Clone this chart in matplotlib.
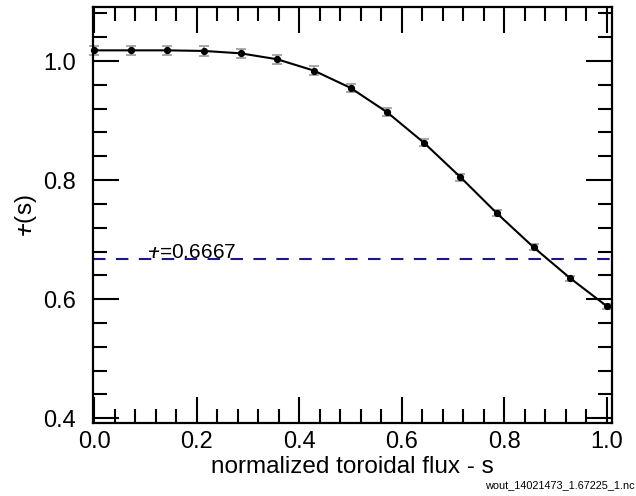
import numpy as np
import matplotlib.pyplot as plt
from matplotlib.ticker import MultipleLocator

plt.rcParams['font.family'] = ['Liberation Sans', 'DejaVu Sans']
plt.rcParams['mathtext.fontset'] = 'custom'
plt.rcParams['mathtext.it'] = 'Liberation Sans:italic'
plt.rcParams['mathtext.rm'] = 'Liberation Sans'

# rotational transform profile
s = np.arange(15) / 14.0
iota = [1.018, 1.018, 1.018, 1.017, 1.013, 1.003, 0.984, 0.955,
        0.914, 0.863, 0.805, 0.744, 0.687, 0.635, 0.588]
iota_err = [0.008, 0.008, 0.008, 0.008, 0.008, 0.008, 0.007, 0.007,
            0.007, 0.006, 0.006, 0.005, 0.005, 0.004, 0.004]
iota_res = 0.6667
fname = "wout_14021473_1.67225_1.nc"

# iota-bar: italic iota with a stroke through it
IOTABAR = r'$\iota\!\!\!\mathrm{-}$'

fig = plt.figure(figsize=(6.36, 4.96), dpi=100)
ax = fig.add_axes([0.1462, 0.1472, 0.8161, 0.8377])

ax.errorbar(s, iota, yerr=iota_err, fmt='none', ecolor='#999999',
            elinewidth=1.2, capsize=3.5, capthick=1.2, zorder=2, clip_on=False)
ax.plot(s, iota, color='black', lw=1.5, marker='o', ms=4.2, zorder=3,
        clip_on=False)
ax.axhline(iota_res, color='#1a1a80', lw=1.5, ls=(0, (6, 5)), zorder=1)
ax.text(0.105, iota_res - 0.004, IOTABAR + '=%.4f' % iota_res, fontsize=15,
        ha='left', va='bottom', zorder=4)

ax.set_xlim(-0.002, 1.0098)
ax.set_ylim(0.392, 1.09)
ax.xaxis.set_minor_locator(MultipleLocator(0.04))
ax.yaxis.set_minor_locator(MultipleLocator(0.04))
ax.set_xticks([0.0, 0.2, 0.4, 0.6, 0.8, 1.0])
ax.set_yticks([0.4, 0.6, 0.8, 1.0])
ax.xaxis.set_major_formatter(lambda v, p: '%.1f' % v)
ax.yaxis.set_major_formatter(lambda v, p: '%.1f' % v)
ax.tick_params(which='both', direction='in', top=True, right=True,
               width=1.5, labelsize=17)
ax.tick_params(axis='x', which='major', length=19, pad=6)
ax.tick_params(axis='y', which='major', length=19, pad=12)
ax.tick_params(which='minor', length=10)
for sp in ax.spines.values():
    sp.set_linewidth(1.6)

ax.set_xlabel('normalized toroidal flux - s', fontsize=17.5, labelpad=2)
ax.set_ylabel(IOTABAR + '(s)', fontsize=17.5, labelpad=3)

fig.text(0.998, 0.012, fname, fontsize=7.8, ha='right', va='bottom')

fig.savefig('out.png', dpi=100)
